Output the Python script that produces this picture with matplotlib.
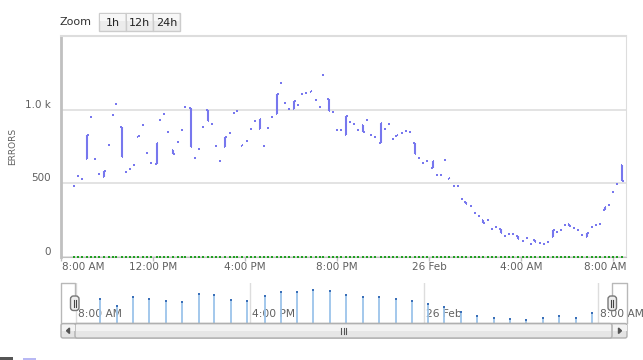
import numpy as np
import matplotlib
matplotlib.use("Agg")
import matplotlib.pyplot as plt
from matplotlib.patches import Rectangle, FancyBboxPatch, Polygon
from matplotlib.transforms import ScaledTranslation

# minutes after 8:00 AM (25 Feb)
times = [34, 44, 54, 69, 79, 89, 100, 113, 124, 135, 144, 158, 170, 180, 190, 202,
         215, 224, 235, 250, 259, 270, 280, 293, 304, 315, 324, 338, 350, 360, 370, 383,
         395, 404, 415, 429, 440, 451, 460, 472, 484, 496, 506, 519, 530, 540, 550, 564,
         574, 584, 595, 609, 619, 630, 640, 652, 665, 675, 684, 698, 710, 719, 730, 744,
         754, 764, 775, 789, 799, 810, 820, 834, 845, 855, 865, 876, 889, 899, 910, 923,
         934, 944, 955, 970, 980, 991, 1001, 1012, 1025, 1035, 1045, 1056, 1070, 1080, 1091, 1102,
         1115, 1125, 1135, 1147, 1159, 1170, 1180, 1191, 1204, 1215, 1225, 1236, 1249, 1259, 1270, 1284,
         1295, 1305, 1316, 1326, 1339, 1350, 1360, 1373, 1385, 1395, 1405, 1418, 1430, 1441, 1451, 1464]

opens = [483, 551, 531, 664, 953, 663, 565, 541, 760, 962, 1041, 885, 577, 599, 624, 812,
         892, 704, 640, 631, 930, 969, 851, 726, 783, 860, 1017, 1010, 674, 731, 883, 998,
         901, 751, 649, 745, 844, 980, 991, 752, 787, 871, 921, 871, 756, 878, 953, 971,
         1182, 1046, 1003, 1003, 1034, 1109, 1114, 1120, 1068, 1019, 1238, 1073, 985, 860, 864, 828,
         917, 901, 862, 896, 930, 830, 813, 776, 867, 901, 803, 818, 840, 858, 851, 772,
         674, 636, 654, 604, 556, 556, 660, 526, 483, 483, 393, 375, 345, 296, 280, 250,
         250, 191, 205, 187, 141, 153, 153, 141, 107, 130, 89, 112, 92, 89, 103, 137,
         166, 184, 216, 221, 194, 184, 146, 137, 200, 216, 221, 316, 354, 439, 495, 626]

closes = [483, 551, 531, 828, 953, 663, 565, 583, 760, 962, 1041, 681, 577, 599, 624, 822,
          892, 704, 640, 772, 930, 969, 851, 697, 783, 860, 1017, 749, 674, 731, 883, 922,
          901, 751, 649, 817, 844, 980, 991, 762, 787, 871, 921, 939, 756, 878, 953, 1105,
          1182, 1046, 1003, 1059, 1034, 1109, 1114, 1127, 1068, 1019, 1238, 991, 985, 860, 864, 957,
          917, 901, 862, 847, 930, 830, 813, 908, 867, 901, 803, 825, 840, 858, 851, 697,
          674, 636, 654, 649, 556, 556, 660, 533, 483, 483, 393, 357, 345, 296, 280, 232,
          250, 191, 205, 164, 141, 153, 153, 123, 107, 130, 89, 103, 92, 89, 103, 182,
          166, 184, 216, 212, 194, 184, 146, 160, 200, 216, 221, 337, 354, 439, 495, 515]

warnings = [0] * len(times)

x_ticks = [0, 240, 480, 720, 960, 1200, 1440]
x_labels = ["8:00 AM", "12:00 PM", "4:00 PM", "8:00 PM", "26 Feb", "4:00 AM", "8:00 AM"]
y_ticks = [0, 500, 1000]
y_labels = ["0", "500", "1.0 k"]

# navigator series
nav_times = [66, 112, 157, 202, 247, 292, 338, 382, 428, 473, 520, 565, 610, 655, 701, 745,
             791, 836, 882, 926, 971, 1016, 1061, 1107, 1152, 1197, 1242, 1288, 1333, 1378, 1423]
nav_values = [784, 559, 851, 784, 717, 683, 961, 938, 770, 737, 904, 1038, 1018, 1095, 1060, 918,
              871, 851, 794, 727, 626, 516, 348, 224, 168, 124, 90, 157, 224, 147, 325]
nav_ticks = [0, 480, 960, 1440]
nav_labels = ["8:00 AM", "4:00 PM", "26 Feb", "8:00 AM"]

W, H = 643, 360
FONT = "DejaVu Sans"
TXT = "#606060"
SERIES = "#7777ee"


def box(x0, y0, x1, y1):
    return [x0 / W, 1 - y1 / H, (x1 - x0) / W, (y1 - y0) / H]


fig = plt.figure(figsize=(W / 100, H / 100), dpi=100)

# ---- main chart
ax = fig.add_axes(box(61, 36, 626, 256.8))
ax.set_xlim(0, 1474)
ax.set_ylim(0, 1500)

t = np.array(times)
o = np.array(opens)
c = np.array(closes)
hi = np.maximum(o, c)
lo = np.minimum(o, c)
bar = hi - lo > 0

ax.vlines(t[bar], lo[bar], hi[bar], color=SERIES, lw=1.5, zorder=3)
ax.hlines(o[bar], t[bar] - 3.5, t[bar], color=SERIES, lw=1.4, zorder=3)
ax.hlines(c[bar], t[bar], t[bar] + 3.5, color=SERIES, lw=1.4, zorder=3)
ax.plot(t[~bar], c[~bar], ls="none", marker="s", ms=1.7, mew=0, color=SERIES, zorder=3)

ax.plot(t, warnings, ls="none", marker="s", ms=1.6, mew=0, color="#22a022", zorder=4,
        clip_on=False)

ax.set_yticks(y_ticks)
ax.set_yticklabels(y_labels, fontsize=7.5, color=TXT, family=FONT)
ax.tick_params(axis="y", length=0, pad=7)
for lab in ax.get_yticklabels():
    lab.set_transform(lab.get_transform() + ScaledTranslation(0, 0.06, fig.dpi_scale_trans))
ax.grid(axis="y", color="#e3e3e3", lw=1.4)
ax.set_axisbelow(True)

ax.set_xticks(x_ticks)
ax.set_xticklabels([""] * len(x_ticks))
ax.tick_params(axis="x", length=3, color="#c0c0c0", width=1)
xt = ax.get_xaxis_transform()
for i, (tk, lab) in enumerate(zip(x_ticks, x_labels)):
    if i == 0:
        ax.text(tk + 2, -0.047, lab, transform=xt, ha="left", va="center",
                fontsize=7.5, color=TXT, family=FONT)
    elif i == len(x_ticks) - 1:
        ax.text(1474, -0.047, lab, transform=xt, ha="right", va="center",
                fontsize=7.5, color=TXT, family=FONT)
    else:
        ax.text(tk, -0.047, lab, transform=xt, ha="center", va="center",
                fontsize=7.5, color=TXT, family=FONT)

ax.spines["left"].set_color("#c0c0c0")
ax.spines["left"].set_linewidth(2)
ax.spines["bottom"].set_color("#c0c0c0")
ax.spines["top"].set_color("#dddddd")
ax.spines["top"].set_linewidth(1.5)
ax.spines["right"].set_color("#dddddd")

fig.text(12.5 / W, 1 - 146 / H, "ERRORS", rotation=90, ha="center", va="center",
         fontsize=6.5, color=TXT, family=FONT)

# ---- navigator
nav = fig.add_axes(box(61, 283, 627, 322.7))
nav.set_xlim(-41.4, 1520)
nav.set_ylim(0, 1330)
nav.axis("off")
for tk, lab in zip(nav_ticks, nav_labels):
    nav.axvline(tk, color="#dddddd", lw=1, zorder=1)
    nav.text(tk + 5, 0.22, lab, transform=nav.get_xaxis_transform(), ha="left",
             va="center", fontsize=7.7, color=TXT, family=FONT, zorder=2, clip_on=False)
nav.vlines(nav_times, 0, nav_values, color="#9cc4ea", lw=1.3, zorder=3)
nav.plot(nav_times, nav_values, ls="none", marker="s", ms=1.5, mew=0, color="#3a6fb8", zorder=4)

# ---- overlay for the UI chrome (pixel coordinates)
ov = fig.add_axes([0, 0, 1, 1])
ov.set_xlim(0, W)
ov.set_ylim(H, 0)
ov.axis("off")

ov.text(60, 22, "Zoom", ha="left", va="center", fontsize=8, color="#333333", family=FONT)
for x0, x1, lab in [(99, 126, "1h"), (126, 153, "12h"), (153, 180, "24h")]:
    ov.add_patch(Rectangle((x0, 13), x1 - x0, 18, facecolor="#ececec", edgecolor="#cccccc", lw=1))
    ov.add_patch(Rectangle((x0 + 1, 14), x1 - x0 - 2, 7, facecolor="#f7f7f7", edgecolor="none"))
    ov.text((x0 + x1) / 2, 22.5, lab, ha="center", va="center", fontsize=8, color="#222222",
            family=FONT)

# navigator outline
ov.plot([61, 61, 75, 75], [322.7, 283, 283, 296], color="#b8b8b8", lw=1)
ov.plot([612, 612, 627, 627], [296, 283, 283, 322.7], color="#b8b8b8", lw=1)

# scrollbar
ov.add_patch(FancyBboxPatch((61, 323.5), 566, 14.5, boxstyle="round,pad=0,rounding_size=2",
                            facecolor="#e4e4e4", edgecolor="#b0b0b0", lw=1))
ov.add_patch(FancyBboxPatch((75, 323.5), 537, 14.5, boxstyle="round,pad=0,rounding_size=2",
                            facecolor="#e6e6e6", edgecolor="#b0b0b0", lw=1))
ov.add_patch(Rectangle((76, 324.5), 535, 6, facecolor="#f3f3f3", edgecolor="none"))
ov.add_patch(Rectangle((62, 324.5), 12.5, 6, facecolor="#f3f3f3", edgecolor="none"))
ov.add_patch(Rectangle((613, 324.5), 13.5, 6, facecolor="#f3f3f3", edgecolor="none"))
for gx in (341, 343.5, 346):
    ov.plot([gx, gx], [328, 333.5], color="#555555", lw=0.8)
ov.add_patch(Polygon([[69.5, 328], [69.5, 333.5], [66.5, 330.75]], color="#555555"))
ov.add_patch(Polygon([[618.5, 328], [618.5, 333.5], [621.5, 330.75]], color="#555555"))

# navigator handles
for hx in (70.5, 608):
    ov.add_patch(FancyBboxPatch((hx, 296), 8.5, 14.5, boxstyle="round,pad=0,rounding_size=3",
                                facecolor="#eeeeee", edgecolor="#777777", lw=1, zorder=5))
    for gx in (hx + 3.2, hx + 5.3):
        ov.plot([gx, gx], [300, 306.5], color="#444444", lw=0.8, zorder=6)

# cut legend symbols at the bottom edge
ov.add_patch(Rectangle((0, 357), 13, 4, facecolor="#555555", edgecolor="none"))
ov.add_patch(Rectangle((23, 358), 13, 3, facecolor="#b8b8f4", edgecolor="none"))

fig.savefig("out.png", dpi=100)
